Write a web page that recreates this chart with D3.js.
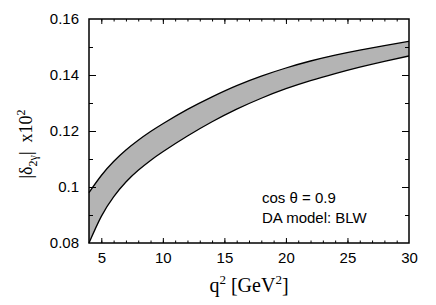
<!DOCTYPE html>
<html>
<head>
<meta charset="utf-8">
<style>
body { margin: 0; background: white; }
svg text { fill: black; }
.tick text { font-family: "Liberation Sans", Arial, sans-serif; font-size: 15px; }
</style>
<script src="https://d3js.org/d3.v7.min.js"></script>
</head>
<body>
<svg id="chart" width="436" height="305"></svg>
<script>
// data
var q2 = [4, 5, 6, 7, 8, 9, 10, 12, 14, 16, 18, 20, 22, 24, 26, 28, 30];
var upper = [0.0980, 0.1041, 0.1091, 0.1132, 0.1167, 0.1198, 0.1226, 0.1277, 0.1322, 0.1362, 0.1396, 0.1425, 0.1450, 0.1471, 0.1489, 0.1505, 0.1520];
var lower = [0.0800, 0.0895, 0.0965, 0.1018, 0.1060, 0.1095, 0.1126, 0.1182, 0.1233, 0.1278, 0.1317, 0.1351, 0.1380, 0.1405, 0.1428, 0.1449, 0.1468];
var xTicks = [5, 10, 15, 20, 25, 30];
var yTicks = [0.08, 0.1, 0.12, 0.14, 0.16];
var notes = ["cos \u03b8 = 0.9", "DA model: BLW"];

var svg = d3.select("#chart");
var L = 89, R = 409, T = 19, B = 243;

var x = d3.scaleLinear().domain([4, 30]).range([L, R]);
var y = d3.scaleLinear().domain([0.08, 0.16]).range([B, T]);

var band = q2.map(function(d, i) { return {q: d, hi: upper[i], lo: lower[i]}; });

var area = d3.area()
  .x(function(d) { return x(d.q); })
  .y0(function(d) { return y(d.lo); })
  .y1(function(d) { return y(d.hi); })
  .curve(d3.curveNatural);

svg.append("path").datum(band)
  .attr("d", area)
  .attr("fill", "#b4b4b4");

["hi", "lo"].forEach(function(k) {
  svg.append("path").datum(band)
    .attr("fill", "none")
    .attr("stroke", "black")
    .attr("stroke-width", 1.3)
    .attr("d", d3.line()
      .x(function(d) { return x(d.q); })
      .y(function(d) { return y(d[k]); })
      .curve(d3.curveNatural));
});

// minor ticks
var xMinor = d3.range(5, 30, 1);
var yMinor = d3.range(0.09, 0.16, 0.02);

function addAxis(axis, tr) {
  var g = svg.append("g").attr("transform", tr).call(axis);
  g.select(".domain").remove();
  g.selectAll("line").attr("stroke", "black").attr("stroke-width", 1);
  return g;
}

// bottom
addAxis(d3.axisBottom(x).tickValues(xMinor).tickSize(-2.5).tickFormat(""), "translate(0," + B + ")");
addAxis(d3.axisBottom(x).tickValues(xTicks.filter(function(v){return v<30;})).tickSize(-5).tickFormat(""), "translate(0," + B + ")");
addAxis(d3.axisBottom(x).tickValues(xTicks).tickSize(0).tickPadding(9).tickFormat(d3.format("d")), "translate(0," + B + ")");
// top
addAxis(d3.axisTop(x).tickValues(xMinor).tickSize(-2.5).tickFormat(""), "translate(0," + T + ")");
addAxis(d3.axisTop(x).tickValues(xTicks.filter(function(v){return v<30;})).tickSize(-5).tickFormat(""), "translate(0," + T + ")");
// left
addAxis(d3.axisLeft(y).tickValues(yMinor).tickSize(-4).tickFormat(""), "translate(" + L + ",0)");
addAxis(d3.axisLeft(y).tickValues(yTicks.slice(1, 4)).tickSize(-7).tickFormat(""), "translate(" + L + ",0)");
addAxis(d3.axisLeft(y).tickValues(yTicks).tickSize(0).tickPadding(10).tickFormat(function(d) { return d3.format(".2~f")(d); }), "translate(" + L + ",0)");
// right
addAxis(d3.axisRight(y).tickValues(yMinor).tickSize(-4).tickFormat(""), "translate(" + R + ",0)");
addAxis(d3.axisRight(y).tickValues(yTicks.slice(1, 4)).tickSize(-7).tickFormat(""), "translate(" + R + ",0)");

// frame
svg.append("rect")
  .attr("x", L).attr("y", T)
  .attr("width", R - L).attr("height", B - T)
  .attr("fill", "none").attr("stroke", "black").attr("stroke-width", 1.5);

// axis titles
var xt = svg.append("text")
  .attr("x", (L + R) / 2).attr("y", 292)
  .attr("text-anchor", "middle")
  .style("font-family", "'Liberation Serif', 'Times New Roman', serif")
  .style("font-size", "20px");
xt.append("tspan").text("q");
xt.append("tspan").attr("dy", -8).style("font-size", "13px").text("2");
xt.append("tspan").attr("dy", 8).text(" [GeV");
xt.append("tspan").attr("dy", -8).style("font-size", "13px").text("2");
xt.append("tspan").attr("dy", 8).text("]");

var yt = svg.append("text")
  .attr("transform", "translate(32,144) rotate(-90)")
  .attr("text-anchor", "middle")
  .style("font-family", "'Liberation Serif', 'Times New Roman', serif")
  .style("font-size", "18px");
yt.append("tspan").text("|\u03b4");
yt.append("tspan").attr("dy", 5).style("font-size", "12px").text("2\u03b3");
yt.append("tspan").attr("dy", -5).text("|\u00a0\u00a0x10");
yt.append("tspan").attr("dy", -7).style("font-size", "12px").text("2");

// notes
svg.selectAll(".note").data(notes).enter().append("text")
  .attr("class", "note")
  .attr("x", 262)
  .attr("y", function(d, i) { return 203 + i * 20; })
  .style("font-family", "'Liberation Sans', Arial, sans-serif")
  .style("font-size", "15px")
  .text(function(d) { return d; });
</script>
</body>
</html>
